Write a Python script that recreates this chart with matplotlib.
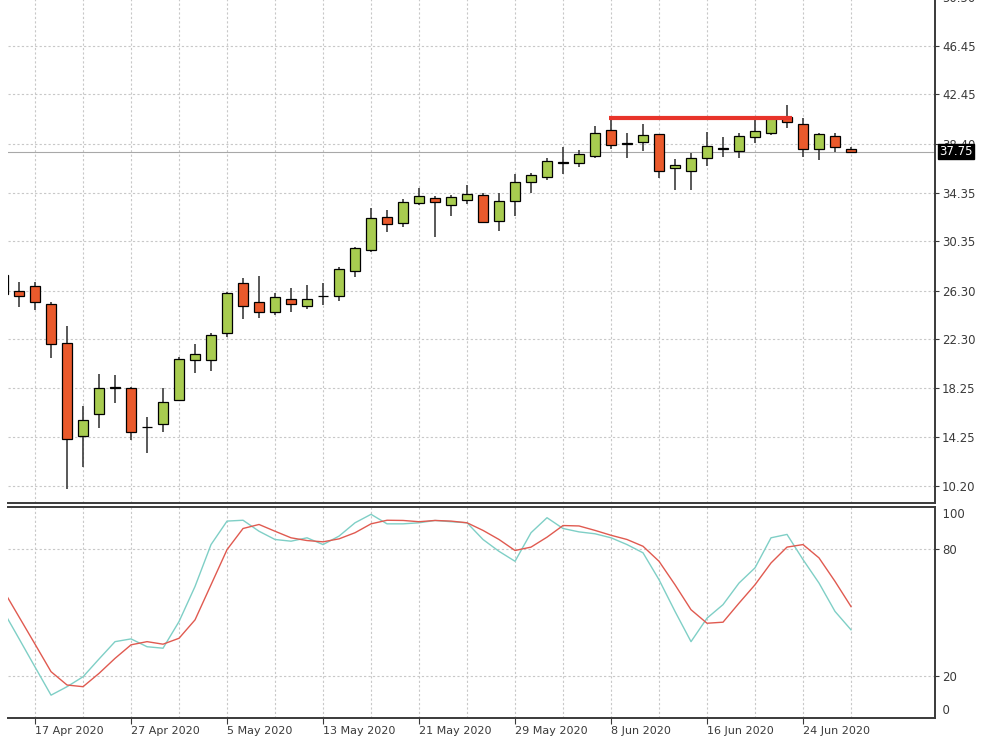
import pandas as pd
import matplotlib
matplotlib.use('Agg')
import matplotlib.pyplot as plt
from matplotlib.transforms import blended_transform_factory

# daily bars, 15 Apr 2020 .. 29 Jun 2020
dates = pd.bdate_range('2020-04-15', '2020-06-29')

opens = [27.58, 26.26, 26.67, 25.19, 21.95, 14.32, 16.16, 18.28, 18.30, 15.04,
         15.33, 17.31, 20.55, 20.55, 22.78, 26.90, 25.33, 24.50, 25.58, 24.99,
         25.82, 25.85, 27.93, 29.64, 32.33, 31.89, 33.49, 33.95, 33.35, 33.76,
         34.19, 32.03, 33.68, 35.24, 35.63, 36.80, 36.78, 37.38, 39.52, 38.40,
         38.51, 39.19, 36.37, 36.15, 37.20, 37.98, 37.82, 38.91, 39.25, 40.57,
         40.00, 37.98, 39.06, 37.96]
highs = [27.80, 27.03, 27.03, 25.38, 23.38, 16.81, 19.43, 19.37, 18.38, 15.91,
         18.25, 20.85, 21.90, 22.83, 26.20, 27.31, 27.50, 26.07, 26.48, 26.76,
         26.90, 28.21, 29.85, 33.08, 32.90, 33.82, 34.72, 34.09, 34.17, 35.00,
         34.36, 34.36, 35.90, 35.96, 37.20, 38.10, 37.88, 39.85, 40.50, 39.25,
         39.99, 39.20, 37.10, 37.60, 39.33, 38.97, 39.25, 40.40, 40.60, 41.58,
         40.49, 39.25, 39.30, 38.10]
lows = [25.90, 24.92, 24.70, 20.72, 9.93, 11.74, 15.00, 17.01, 13.99, 12.89,
        14.67, 17.28, 19.54, 19.70, 22.50, 23.93, 24.01, 24.29, 24.56, 24.81,
        25.11, 25.46, 27.40, 29.50, 31.15, 31.56, 33.35, 30.75, 32.44, 33.41,
        31.83, 31.20, 32.44, 34.31, 35.40, 35.90, 36.45, 37.20, 38.00, 37.20,
        37.82, 35.55, 34.58, 34.58, 36.56, 37.33, 37.25, 38.43, 39.15, 39.66,
        37.30, 37.05, 37.74, 37.60]
closes = [26.02, 25.88, 25.38, 21.87, 14.04, 15.61, 18.25, 18.32, 14.65, 15.08,
          17.14, 20.66, 21.07, 22.64, 26.07, 25.05, 24.56, 25.74, 25.22, 25.59,
          25.88, 28.07, 29.78, 32.25, 31.78, 33.62, 34.10, 33.59, 34.04, 34.26,
          31.94, 33.68, 35.27, 35.79, 36.97, 36.86, 37.55, 39.25, 38.29, 38.44,
          39.11, 36.15, 36.64, 37.24, 38.20, 38.02, 39.06, 39.47, 40.49, 40.16,
          37.94, 39.20, 38.10, 37.75]

# stochastic oscillator (%K main, %D signal)
stoch_k = [50.8, 37.5, 24.1, 10.8, 14.8, 19.5, 27.9, 36.1, 37.4, 33.7,
           33.0, 45.6, 62.2, 82.0, 93.1, 93.5, 88.3, 84.4, 83.6, 85.2,
           82.0, 86.0, 92.3, 96.3, 91.8, 91.8, 92.3, 93.4, 92.8, 92.3,
           84.4, 78.8, 74.1, 87.6, 94.7, 89.6, 88.0, 87.1, 85.2, 82.0,
           78.1, 65.4, 50.4, 36.1, 47.2, 53.6, 63.8, 71.0, 85.2, 86.8,
           74.9, 63.8, 50.4, 41.7]
stoch_d = [60.7, 47.8, 34.9, 21.9, 15.6, 14.8, 21.1, 28.2, 34.6, 36.1,
           34.9, 37.7, 46.4, 63.0, 79.6, 89.6, 91.5, 88.3, 85.2, 83.9,
           83.3, 84.7, 87.6, 91.8, 93.5, 93.4, 92.8, 93.4, 93.1, 92.3,
           88.7, 84.4, 79.2, 80.8, 85.5, 91.0, 90.8, 88.7, 86.4, 84.4,
           81.2, 74.1, 63.0, 51.2, 44.8, 45.3, 54.3, 63.0, 73.3, 80.8,
           82.0, 75.7, 64.6, 52.7]

price_ticks = [10.20, 14.25, 18.25, 22.30, 26.30, 30.35, 34.35, 38.40, 42.45, 46.45, 50.50]
last_price = 37.75
# resistance line drawn from the 8 Jun high to 23 Jun
resist_level = 40.55
resist_from, resist_to = 37.9, 49.3

GREEN = '#a8cc50'
RED = '#ea5a2c'
GRID = '#c8c8c8'
SPINE = '#3a3a3a'

fig = plt.figure(figsize=(9.88, 7.44), dpi=100)
W, H = 988, 744
left, right = 8 / W, 935 / W
ax = fig.add_axes([left, (H - 503) / H, right - left, (503 + 15) / H])
ax2 = fig.add_axes([left, (H - 718) / H, right - left, (718 - 506.5) / H])

x = list(range(len(opens)))
xlim = (0.31, 58.25)

# candles
ax.vlines(x, lows, highs, color='#3c3c3c', lw=1.2, zorder=2)
for i in x:
    o, c = opens[i], closes[i]
    col = GREEN if c >= o else RED
    h = max(abs(c - o), 0.04)
    ax.bar(i, h, bottom=min(o, c), width=0.66, color=col,
           edgecolor='black', linewidth=0.9, zorder=3)

ax.axhline(last_price, color='#a8a8a8', lw=0.8, zorder=1)
ax.hlines(resist_level, resist_from, resist_to, color='#e8342a', lw=3, zorder=4)

ax.set_xlim(*xlim)
ax.set_ylim(8.80, 51.47)
ax.yaxis.tick_right()
ax.set_yticks(price_ticks)
ax.set_yticklabels([f'{t:.2f}' for t in price_ticks])

major = list(range(2, 54, 6))
minor = list(range(5, 58, 6))
for a in (ax, ax2):
    a.set_xticks(major)
    a.set_xticks(minor, minor=True)
    a.grid(True, which='both', axis='x', color=GRID, ls=(0, (2, 2)), lw=0.8)
    a.tick_params(axis='x', which='minor', length=0)
    a.spines['left'].set_visible(False)
    for s in ('right', 'bottom', 'top'):
        a.spines[s].set_color(SPINE)
        a.spines[s].set_linewidth(1.4)
    a.tick_params(axis='y', length=3, colors=SPINE, labelsize=8.5, pad=2)
    a.set_axisbelow(True)

ax.grid(True, axis='y', color=GRID, ls=(0, (2, 2)), lw=0.8)
ax.tick_params(axis='x', which='major', length=0, labelbottom=False)

ax.annotate(f'{last_price:.2f}', xy=(1, last_price),
            xycoords=('axes fraction', 'data'), xytext=(3, 0),
            textcoords='offset points', ha='left', va='center',
            color='white', fontsize=8.5, zorder=10,
            bbox=dict(boxstyle='square,pad=0.12', fc='black', ec='black'))

# oscillator
ax2.plot(x, stoch_k, color='#7fcfc6', lw=1.0)
ax2.plot(x, stoch_d, color='#e05a50', lw=1.0)
ax2.set_xlim(*xlim)
ax2.set_ylim(0, 100)
ax2.yaxis.tick_right()
ax2.set_yticks([20, 80])
ax2.set_yticklabels(['20', '80'])
ax2.grid(True, axis='y', color=GRID, ls=(0, (2, 2)), lw=0.8)
tr = blended_transform_factory(ax2.transAxes, ax2.transData)
ax2.text(1.0, 96.2, '  100', transform=tr, ha='left', va='center',
         fontsize=8.5, color=SPINE)
ax2.text(1.0, 3.7, '  0', transform=tr, ha='left', va='center',
         fontsize=8.5, color=SPINE)

ax2.set_xticklabels([f'{dates[i].day} {dates[i]:%b %Y}' for i in major],
                    ha='left')
ax2.tick_params(axis='x', which='major', length=4, colors=SPINE,
                labelsize=8, pad=2)

fig.savefig('out.png', dpi=100)
